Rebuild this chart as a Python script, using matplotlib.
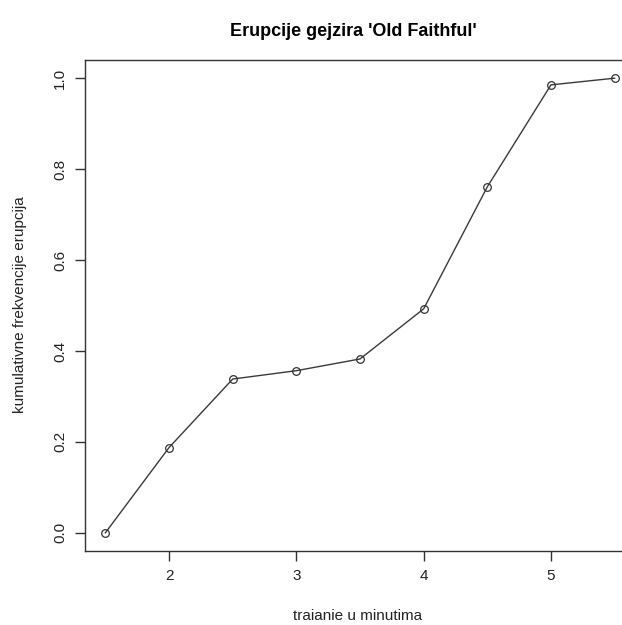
import numpy as np
import matplotlib
matplotlib.use("Agg")
import matplotlib.pyplot as plt

plt.rcParams['font.family'] = ['Liberation Sans', 'DejaVu Sans']

# class breaks for eruption durations and cumulative relative frequency
breaks = [1.5, 2.0, 2.5, 3.0, 3.5, 4.0, 4.5, 5.0, 5.5]
counts = [51, 41, 5, 7, 30, 73, 61, 4]
cumfreq = np.concatenate([[0], np.cumsum(counts)]) / sum(counts)

x_ticks = [2, 3, 4, 5]
y_ticks = [0.0, 0.2, 0.4, 0.6, 0.8, 1.0]

W, H = 622, 625
fig = plt.figure(figsize=(W / 100, H / 100), dpi=100)
# plot region runs past the right edge of the image
ax = fig.add_axes([85 / W, (H - 551) / H, (635 - 85) / W, (551 - 60) / H])

ax.plot(breaks, cumfreq, color="#3a3a3a", linewidth=1.0,
        marker="o", markersize=5.5, markerfacecolor="none",
        markeredgecolor="#333333", markeredgewidth=0.9)

ax.set_xlim(1.34, 5.66)
ax.set_ylim(-0.04, 1.04)
ax.set_xticks(x_ticks)
ax.set_xticklabels([str(t) for t in x_ticks])
ax.set_yticks(y_ticks)
ax.set_yticklabels([f"{t:.1f}" for t in y_ticks], rotation=90, va="center")

for s in ax.spines.values():
    s.set_color("#333333")
    s.set_linewidth(1.0)
ax.tick_params(direction="out", length=7, width=1.0, color="#333333",
               labelcolor="#222222", labelsize=11, pad=6)

fig.text(353 / W, 1 - 32 / H, "Erupcije gejzira 'Old Faithful'",
         ha="center", va="center", fontsize=13, fontweight="bold")
fig.text(358 / W, 1 - 616 / H, "traianie u minutima", ha="center", va="center",
         fontsize=11, color="#222222")
fig.text(20 / W, 1 - 305 / H, "kumulativne frekvencije erupcija", ha="center",
         va="center", rotation=90, fontsize=11, color="#222222")

fig.savefig("out.png", dpi=100)
